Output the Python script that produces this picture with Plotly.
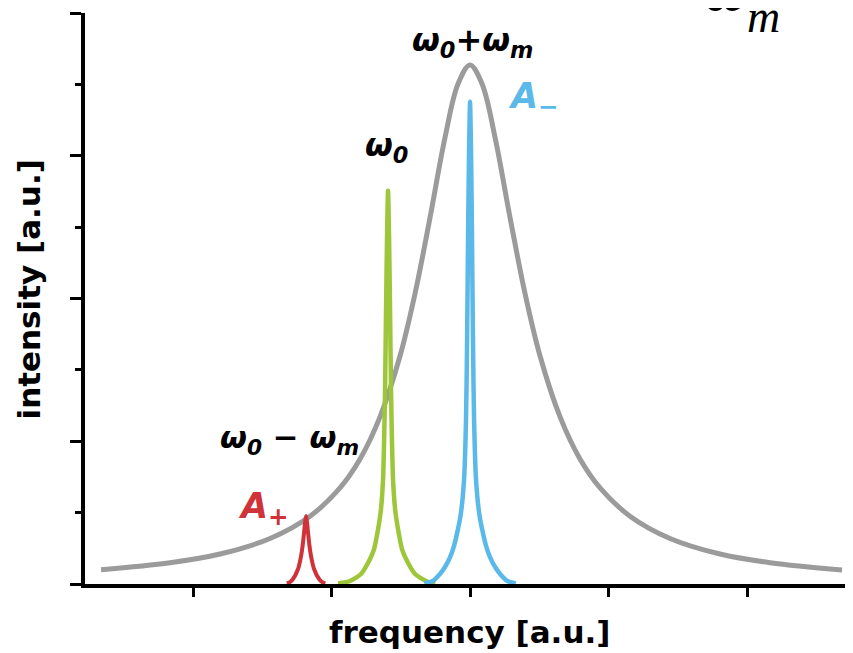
import plotly.graph_objects as go

# ---- data (x in a.u. with ticks at -2..2, y in a.u. 0..4) ----
x_ticks = [-2, -1, 0, 1, 2]
y_major = [0, 1, 2, 3, 4]

gray_x = [-2.664, -2.166, -1.805, -1.444, -1.155, -0.939, -0.794, -0.650, -0.505, -0.397, -0.289, -0.181, -0.087, 0.0,
          0.087, 0.181, 0.289, 0.397, 0.505, 0.650, 0.794, 0.939, 1.155, 1.444, 1.805, 2.166, 2.686]
gray_y = [0.100, 0.149, 0.210, 0.319, 0.475, 0.673, 0.876, 1.171, 1.599, 2.035, 2.566, 3.126, 3.503, 3.636,
          3.503, 3.126, 2.566, 2.035, 1.599, 1.171, 0.876, 0.673, 0.475, 0.319, 0.210, 0.149, 0.098]

red_x = [-1.323, -1.304, -1.278, -1.242, -1.220, -1.209, -1.198, -1.191, -1.184,
         -1.177, -1.170, -1.159, -1.148, -1.126, -1.090, -1.064, -1.045]
red_y = [0.004, 0.011, 0.035, 0.105, 0.196, 0.266, 0.364, 0.434, 0.476,
         0.434, 0.364, 0.266, 0.196, 0.105, 0.035, 0.011, 0.004]

green_x = [-0.953, -0.866, -0.787, -0.722, -0.693, -0.664, -0.643, -0.628, -0.621, -0.614, -0.606, -0.599, -0.592,
           -0.585, -0.578, -0.570, -0.563, -0.556, -0.541, -0.520, -0.491, -0.462, -0.397, -0.318, -0.251]
green_y = [0.004, 0.021, 0.070, 0.175, 0.245, 0.385, 0.524, 0.734, 0.979, 1.329, 1.958, 2.448, 2.755,
           2.448, 1.958, 1.329, 0.979, 0.734, 0.524, 0.385, 0.245, 0.175, 0.070, 0.021, 0.004]

blue_x = [-0.330, -0.270, -0.217, -0.181, -0.144, -0.116, -0.087, -0.065, -0.043, -0.029, -0.022, -0.014, -0.007, 0.0,
          0.007, 0.014, 0.022, 0.029, 0.043, 0.065, 0.087, 0.116, 0.144, 0.181, 0.217, 0.270, 0.330]
blue_y = [0.004, 0.021, 0.070, 0.119, 0.189, 0.266, 0.385, 0.503, 0.734, 1.154, 1.643, 2.448, 3.042, 3.378,
          3.042, 2.448, 1.643, 1.154, 0.734, 0.503, 0.385, 0.266, 0.189, 0.119, 0.070, 0.021, 0.004]

GRAY = "#9b9b9b"
RED = "#d0323a"
GREEN = "#9ec63a"
BLUE = "#5ab9e8"

fig = go.Figure()
fig.add_trace(go.Scatter(x=gray_x, y=gray_y, mode="lines",
                         line=dict(color=GRAY, width=5, shape="spline", smoothing=1.0)))
fig.add_trace(go.Scatter(x=red_x, y=red_y, mode="lines",
                         line=dict(color=RED, width=4, shape="spline", smoothing=0.6)))
fig.add_trace(go.Scatter(x=green_x, y=green_y, mode="lines",
                         line=dict(color=GREEN, width=4.5, shape="spline", smoothing=0.6)))
fig.add_trace(go.Scatter(x=blue_x, y=blue_y, mode="lines",
                         line=dict(color=BLUE, width=4.5, shape="spline", smoothing=0.6)))

SANS = "DejaVu Sans"
SERIF = "Liberation Serif"

def ann(text, x, y, size, color="black", family=SANS, xanchor="left", yanchor="middle",
        angle=0, ref="data"):
    xr, yr = ("x", "y") if ref == "data" else ("paper", "paper")
    fig.add_annotation(text=text, x=x, y=y, xref=xr, yref=yr, showarrow=False,
                       xanchor=xanchor, yanchor=yanchor, textangle=angle,
                       font=dict(family=family, size=size, color=color))

ann("<b><i>ω<sub>0</sub>+ω<sub>m</sub></i></b>", -0.43, 3.80, 32)
ann("<b><i>A<sub>−</sub></i></b>", 0.262, 3.40, 35, color=BLUE)
ann("<b><i>ω<sub>0</sub></i></b>", -0.77, 3.06, 32)
ann("<b><i>ω<sub>0</sub> − ω<sub>m</sub></i></b>", -1.82, 1.01, 31)
ann("<b><i>A<sub>+</sub></i></b>", -1.69, 0.53, 35, color=RED)
# cut-off symbol at top right (partly outside the page)
ann("<i>ω</i>", 0.8034, 1.042, 62, family=SERIF, ref="paper")
ann("<i>m</i>", 0.859, 0.993, 46, family=SERIF, ref="paper")

# axis titles
ann("<b>frequency [a.u.]</b>", 0.5013, -0.0841, 31, xanchor="center", ref="paper")
ann("<b>intensity [a.u.]</b>", -0.0723, 0.5166, 31, xanchor="center", angle=-90, ref="paper")

fig.update_layout(
    width=853, height=653,
    margin=dict(l=77, r=8, t=5, b=77),
    paper_bgcolor="white", plot_bgcolor="white",
    showlegend=False,
    xaxis=dict(range=[-2.780, 2.765], showline=True, linecolor="black", linewidth=4,
               ticks="outside", tickvals=x_ticks, ticklen=9, tickwidth=3, tickcolor="black",
               showticklabels=False, showgrid=False, zeroline=False),
    yaxis=dict(range=[0, 4], showline=True, linecolor="black", linewidth=4,
               ticks="outside", tickvals=y_major, ticklen=11, tickwidth=3, tickcolor="black",
               showticklabels=False, showgrid=False, zeroline=False,
               minor=dict(dtick=0.5, ticks="outside", ticklen=6, tickwidth=3, tickcolor="black", showgrid=False)),
)

fig.write_html("out.html")
